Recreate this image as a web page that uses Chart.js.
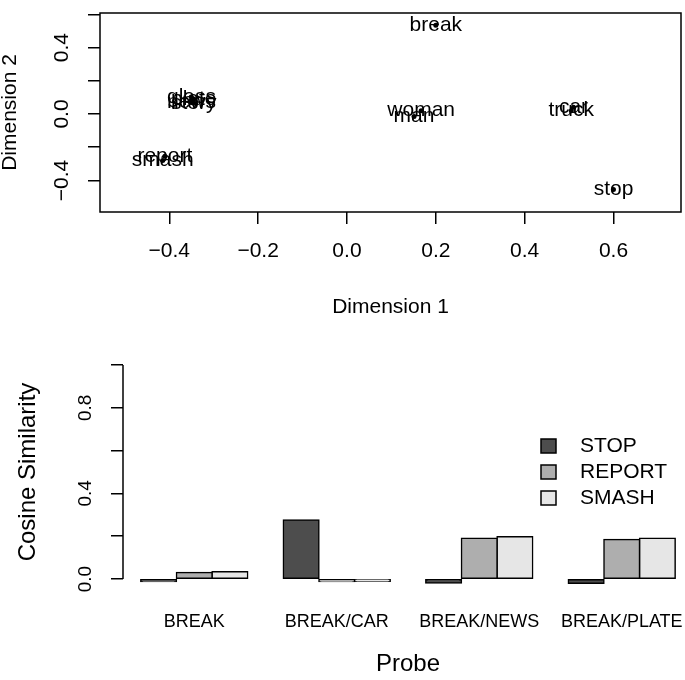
<!DOCTYPE html>
<html>
<head>
<meta charset="utf-8">
<script src="https://cdn.jsdelivr.net/npm/chart.js@4.4.1/dist/chart.umd.min.js"></script>
<style>
  html, body { margin: 0; padding: 0; background: #fff; overflow: hidden; }
  #wrap { position: relative; width: 685px; height: 680px; overflow: hidden; }
  #mds { position: absolute; left: 0; top: 0; }
  #bars { position: absolute; left: 0; top: 330px; }
</style>
</head>
<body>
<div id="wrap">
  <canvas id="mds" width="685" height="330"></canvas>
  <canvas id="bars" width="700" height="350"></canvas>
</div>
<script>
// MDS panel
const words = ['break', 'stop', 'car', 'truck', 'woman', 'man', 'glass', 'plate', 'news', 'story', 'report', 'smash'];
const dim1 = [0.20, 0.60, 0.51, 0.505, 0.167, 0.151, -0.35, -0.345, -0.35, -0.345, -0.41, -0.415];
const dim2 = [0.535, -0.455, 0.04, 0.02, 0.02, -0.015, 0.10, 0.09, 0.07, 0.065, -0.255, -0.28];
const dimTicks = [-0.4, -0.2, 0, 0.2, 0.4, 0.6];
const dim2Labels = [-0.4, 0, 0.4];

// bar panel
const probes = ['BREAK', 'BREAK/CAR', 'BREAK/NEWS', 'BREAK/PLATE'];
const stopSim = [-0.012, 0.276, -0.019, -0.02];
const reportSim = [0.031, -0.012, 0.19, 0.185];
const smashSim = [0.034, -0.01, 0.197, 0.19];
const simTicks = [0, 0.2, 0.4, 0.6, 0.8, 1.0];
const simLabels = [0, 0.4, 0.8];

const FONT = '"Liberation Sans", Arial, Helvetica, sans-serif';
const black = '#000';
Chart.defaults.font.family = FONT;
Chart.defaults.font.size = 21;
Chart.defaults.color = black;

function fmt(v) {
  return (v < 0 ? '\u2212' : '') + Math.abs(v).toFixed(1);
}

function fixTicks(list) {
  return (scale) => { scale.ticks = list.map((value) => ({value})); };
}

function fitWidth(w) {
  return (s) => { s.width = w; s.paddingTop = 0; s.paddingBottom = 0; };
}

function fitHeight(h) {
  return (s) => { s.height = h; s.paddingLeft = 0; s.paddingRight = 0; };
}

const boxPlugin = {
  id: 'box',
  afterDraw(chart) {
    const {ctx, chartArea: a} = chart;
    ctx.save();
    ctx.strokeStyle = black;
    ctx.lineWidth = 1.5;
    ctx.strokeRect(a.left, a.top, a.right - a.left, a.bottom - a.top);
    ctx.restore();
  },
};

const wordLabels = {
  id: 'wordLabels',
  afterDatasetsDraw(chart) {
    const {ctx, scales: {x, y}} = chart;
    ctx.save();
    ctx.font = '21px ' + FONT;
    ctx.fillStyle = black;
    ctx.textAlign = 'center';
    ctx.textBaseline = 'middle';
    words.forEach((w, i) => {
      ctx.fillText(w, x.getPixelForValue(dim1[i]), y.getPixelForValue(dim2[i]));
    });
    ctx.restore();
  },
};

const simAxis = {
  id: 'simAxis',
  afterDraw(chart) {
    const {ctx, scales: {y}} = chart;
    ctx.save();
    ctx.strokeStyle = black;
    ctx.lineWidth = 1.5;
    ctx.beginPath();
    ctx.moveTo(y.right, y.getPixelForValue(simTicks[0]));
    ctx.lineTo(y.right, y.getPixelForValue(simTicks[simTicks.length - 1]));
    ctx.stroke();
    ctx.restore();
  },
};

const boxLegend = {
  id: 'boxLegend',
  afterDraw(chart) {
    const ctx = chart.ctx;
    ctx.save();
    ctx.font = '21px ' + FONT;
    ctx.textBaseline = 'middle';
    ctx.textAlign = 'left';
    chart.data.datasets.forEach((ds, i) => {
      const y = 116 + i * 26;
      ctx.fillStyle = ds.backgroundColor;
      ctx.fillRect(541, y - 7, 15, 14);
      ctx.strokeStyle = black;
      ctx.lineWidth = 1.5;
      ctx.strokeRect(541, y - 7, 15, 14);
      ctx.fillStyle = black;
      ctx.fillText(ds.label, 580, y);
    });
    ctx.restore();
  },
};

const axisGrid = {drawOnChartArea: false, color: black, lineWidth: 1.5, tickLength: 12};

new Chart(document.getElementById('mds'), {
  type: 'scatter',
  data: {
    datasets: [{
      data: words.map((w, i) => ({x: dim1[i], y: dim2[i]})),
      pointRadius: 2.5,
      pointBackgroundColor: black,
      pointBorderWidth: 0,
    }],
  },
  options: {
    responsive: false,
    animation: false,
    layout: {padding: {top: 13, right: 4, left: 0, bottom: 0}},
    plugins: {legend: {display: false}, tooltip: {enabled: false}},
    scales: {
      x: {
        type: 'linear', min: -0.556, max: 0.752,
        afterBuildTicks: fixTicks(dimTicks),
        afterFit: fitHeight(118),
        grid: axisGrid,
        border: {display: false},
        ticks: {callback: fmt, padding: 15, maxRotation: 0, autoSkip: false},
        title: {display: true, text: 'Dimension 1', padding: {top: 0, bottom: 10}},
      },
      y: {
        type: 'linear', min: -0.59, max: 0.608,
        afterBuildTicks: fixTicks(dimTicks),
        afterFit: fitWidth(100),
        grid: axisGrid,
        border: {display: false},
        ticks: {
          callback: (v) => (dim2Labels.includes(v) ? fmt(v) : ''),
          minRotation: 90, maxRotation: 90, crossAlign: 'center', padding: 5, autoSkip: false,
        },
        title: {display: true, text: 'Dimension 2', font: {lineHeight: 1}, padding: 0},
      },
    },
  },
  plugins: [wordLabels, boxPlugin],
});

const barStyle = {
  borderColor: black, borderWidth: 1.5, borderSkipped: false, inflateAmount: 0.75,
  categoryPercentage: 0.75, barPercentage: 1.0,
};

new Chart(document.getElementById('bars'), {
  type: 'bar',
  data: {
    labels: probes,
    datasets: [
      {label: 'STOP', data: stopSim, backgroundColor: '#4D4D4D', ...barStyle},
      {label: 'REPORT', data: reportSim, backgroundColor: '#AEAEAE', ...barStyle},
      {label: 'SMASH', data: smashSim, backgroundColor: '#E6E6E6', ...barStyle},
    ],
  },
  options: {
    responsive: false,
    animation: false,
    layout: {padding: {top: 26.4, right: 7, left: 0, bottom: 0}},
    plugins: {legend: {display: false}, tooltip: {enabled: false}},
    scales: {
      x: {
        afterFit: fitHeight(92.4),
        grid: {display: false, drawTicks: false, tickLength: 0},
        border: {display: false},
        ticks: {font: {size: 18}, padding: 24, maxRotation: 0, autoSkip: false},
        title: {display: true, text: 'Probe', font: {size: 24}, padding: {top: 0, bottom: 1}},
      },
      y: {
        min: -0.04, max: 1.04,
        afterBuildTicks: fixTicks(simTicks),
        afterFit: fitWidth(123),
        grid: axisGrid,
        border: {display: false},
        ticks: {
          callback: (v) => (simLabels.includes(v) ? fmt(v) : ''),
          font: {size: 19},
          minRotation: 90, maxRotation: 90, crossAlign: 'center', padding: 12, autoSkip: false,
        },
        title: {display: true, text: 'Cosine Similarity', font: {size: 24}, padding: {top: 14, bottom: 0}},
      },
    },
  },
  plugins: [simAxis, boxLegend],
});
</script>
</body>
</html>
